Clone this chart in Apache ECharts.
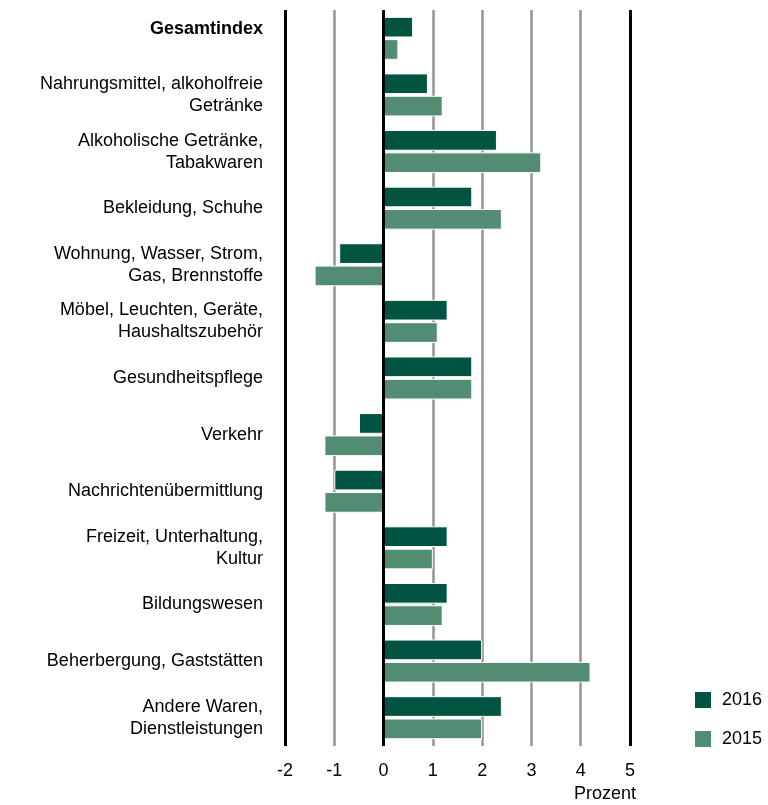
<!DOCTYPE html>
<html>
<head>
<meta charset="utf-8">
<script src="https://cdn.jsdelivr.net/npm/echarts@6/dist/echarts.min.js"></script>
<style>
html,body{margin:0;padding:0;background:#fff;}
#chart{width:768px;height:805px;}
</style>
</head>
<body>
<div id="chart"></div>
<script>
var categories = [
  "Gesamtindex",
  "Nahrungsmittel, alkoholfreie\nGetränke",
  "Alkoholische Getränke,\nTabakwaren",
  "Bekleidung, Schuhe",
  "Wohnung, Wasser, Strom,\nGas, Brennstoffe",
  "Möbel, Leuchten, Geräte,\nHaushaltszubehör",
  "Gesundheitspflege",
  "Verkehr",
  "Nachrichtenübermittlung",
  "Freizeit, Unterhaltung,\nKultur",
  "Bildungswesen",
  "Beherbergung, Gaststätten",
  "Andere Waren,\nDienstleistungen"
];
var values2016 = [0.6, 0.9, 2.3, 1.8, -0.9, 1.3, 1.8, -0.5, -1.0, 1.3, 1.3, 2.0, 2.4];
var values2015 = [0.3, 1.2, 3.2, 2.4, -1.4, 1.1, 1.8, -1.2, -1.2, 1.0, 1.2, 4.2, 2.0];
var seriesNames = ["2016", "2015"];
var xTicks = [-2, -1, 0, 1, 2, 3, 4, 5];
var blackLines = [-2, 0, 5];
var axisTitle = "Prozent";

var FONT = "'Liberation Sans', Arial, sans-serif";
var FS = 18;
var chart = echarts.init(document.getElementById('chart'), null, {renderer: 'canvas'});
chart.setOption({
  animation: false,
  backgroundColor: '#fff',
  grid: {left: 285, right: 138, top: 10, bottom: 59, containLabel: false},
  legend: {
    orient: 'vertical', left: 688, top: 685, itemWidth: 18, itemHeight: 18, itemGap: 19,
    icon: 'rect', padding: 5,
    textStyle: {fontFamily: FONT, fontSize: FS, color: '#000', padding: [0,0,0,5]},
    data: seriesNames
  },
  xAxis: {
    type: 'value', min: xTicks[0], max: xTicks[xTicks.length-1], interval: 1,
    axisLine: {show: false}, axisTick: {show: false},
    axisLabel: {fontFamily: FONT, fontSize: FS, color: '#000', margin: 16},
    splitLine: {show: true, lineStyle: {color: '#959595', width: 2.5}}
  },
  yAxis: {
    type: 'category', data: categories, inverse: true,
    axisLine: {show: false}, axisTick: {show: false},
    axisLabel: {
      fontFamily: FONT, fontSize: FS, color: '#000', margin: 22, lineHeight: 22, align: 'right',
      formatter: function (v) { return v === 'Gesamtindex' ? '{b|' + v + '}' : v; },
      rich: {b: {fontFamily: FONT, fontSize: FS, fontWeight: 'bold', color: '#000', padding: [0,0,18,0]}}
    }
  },
  graphic: [{
    type: 'text', right: 132, top: 785,
    style: {text: axisTitle, font: FS + 'px ' + FONT, fill: '#000'}
  }],
  series: [
    {
      name: seriesNames[0], type: 'bar', data: values2016,
      barCategoryGap: '24%', barGap: '8%',
      itemStyle: {color: '#005440', borderColor: '#fff', borderWidth: 1},
      markLine: {
        silent: true, symbol: 'none', label: {show: false},
        lineStyle: {color: '#000', width: 3, type: 'solid'},
        data: blackLines.map(function (v) { return {xAxis: v}; })
      }
    },
    {
      name: seriesNames[1], type: 'bar', data: values2015,
      barCategoryGap: '24%', barGap: '8%',
      itemStyle: {color: '#528d73', borderColor: '#fff', borderWidth: 1}
    }
  ]
});
</script>
</body>
</html>
